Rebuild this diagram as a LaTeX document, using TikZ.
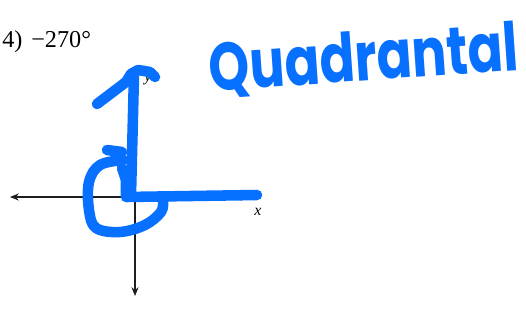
\documentclass[tikz,border=0pt]{standalone}
\usepackage{fontspec}
\setmainfont{Liberation Serif}
\newfontfamily\handfont{Poppins}
\usepackage{tikz}
\usetikzlibrary{arrows.meta, positioning}
\definecolor{penBlue}{RGB}{8,112,255}
\definecolor{axisInk}{RGB}{30,30,30}

\begin{document}
\begin{tikzpicture}[
    x=0.02cm, y=-0.02cm,
    axis/.style={draw=axisInk, line width=0.6pt, -{Stealth[length=5pt, width=4pt]}},
    pen/.style={draw=penBlue, line width=6pt, line cap=round, line join=round},
    lbl/.style={font=\itshape\small, inner sep=0pt}
]
\useasboundingbox (0,0) rectangle (526,324);

% problem number
\node[anchor=base west, inner sep=0pt, font=\fontsize{13.8}{15}\selectfont] (prob) at (2,48)
  {4)\hspace{5pt}−270°};

% axes
\coordinate (O) at (135,197);
\coordinate (xl) at (10,197);
\coordinate (xr) at (250,197);
\coordinate (yt) at (135,72);
\coordinate (yb) at (135,296);
\draw[axis] (O) -- (xl);
\draw[axis] (O) -- (xr);
\draw[axis] (O) -- (yt);
\draw[axis] (O) -- (yb);
\node[lbl] (xlab) at (258,212) {x};
\node[lbl] (ylab) at (148,80) {y};

% handwritten answer
\draw[pen] (97,104) -- (126,82) -- (131,74);
\draw[pen] (131,74) -- (138,70) -- (150,72) -- (155,77);
\draw[pen] (134,74) -- (131,195);
\draw[pen] (107,150) -- (122,152);
\draw[pen] (122,168) -- (126,180) -- (126,197) -- (257,195);
\draw[pen] plot[smooth, tension=0.6] coordinates
  {(123,160) (100,165) (89,182) (89,210) (96,228) (120,232) (145,225) (161,212) (163,201)};

\node[text=penBlue, rotate=4, inner sep=0pt, font=\handfont\bfseries\fontsize{29.5}{30}\selectfont]
  (quad) at (364,60) {\scalebox{1}[1.3]{Quadrantal}};

\end{tikzpicture}
\end{document}
